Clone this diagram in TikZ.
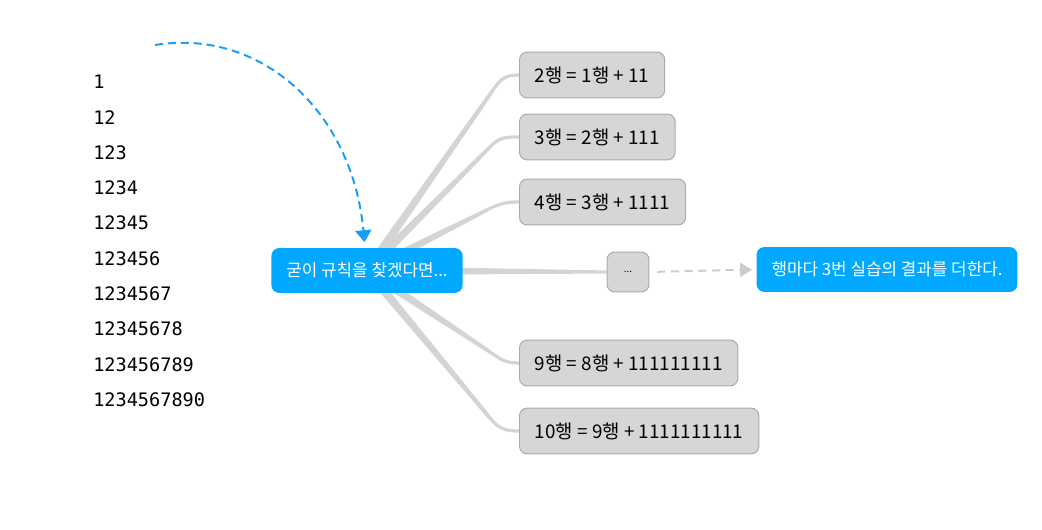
\documentclass[tikz,border=0pt]{standalone}
\usepackage{fontspec}
\setmainfont{Noto Sans CJK KR}
\newfontfamily\numfont{DejaVu Sans Mono}
\usetikzlibrary{calc,arrows.meta,backgrounds}
\definecolor{ruleblue}{HTML}{00A8FF}
\definecolor{boxgray}{HTML}{D6D6D6}
\definecolor{boxline}{HTML}{AAAAAA}
\definecolor{branchgray}{HTML}{D4D4D4}
\definecolor{arrowblue}{HTML}{1A9EF5}
\definecolor{dashgray}{HTML}{CCCCCC}

\begin{document}
\begin{tikzpicture}[x=0.025cm, y=-0.025cm,
    row/.style={anchor=west, font=\numfont\fontsize{13.2}{15}\selectfont, inner sep=0pt},
    idea/.style={rectangle, rounded corners=5.5pt, fill=ruleblue, text=white, font=\fontsize{12}{14}\selectfont, minimum height=31.9pt, inner xsep=10.6pt},
    rowbox/.style={rectangle, rounded corners=5.5pt, draw=boxline, fill=boxgray, line width=0.7pt, font=\fontsize{13.4}{15}\selectfont, minimum height=32.6pt, inner xsep=11pt, anchor=west},
    branch/.style={fill=branchgray, draw=none},
    branch line/.style={draw=branchgray, line width=2.3pt, line cap=round},
    hint/.style={-{Triangle[length=8.5pt, width=11.5pt, fill=arrowblue]}, draw=arrowblue, line width=1.4pt, dash pattern=on 5.7pt off 3.5pt},
    next/.style={-{Triangle[length=8.5pt, width=10pt, fill=dashgray]}, draw=dashgray, line width=1.4pt, dash pattern=on 5.7pt off 4pt},
]
\useasboundingbox (0,0) rectangle (1042,530);

% the rows to be summed
\foreach \txt [count=\i] in {1,12,123,1234,12345,123456,1234567,12345678,123456789,1234567890}
  \node[row] (row\i) at (93,{82+35.3*(\i-1)}) {\txt};

\node[idea] (rule) at (367,270.5) {굳이 규칙을 찾겠다면...};
\node[rowbox] (s2) at (519,75) {2행 = 1행 + 11};
\node[rowbox] (s3) at (519,137) {3행 = 2행 + 111};
\node[rowbox] (s4) at (519,202) {4행 = 3행 + 1111};
\node[rowbox, anchor=center, minimum width=29.8pt, minimum height=28.4pt, inner sep=0pt, font=\scriptsize] (dots) at (628,272) {...};
\node[rowbox] (s9) at (519,363) {9행 = 8행 + 111111111};
\node[rowbox] (s10) at (519,431) {10행 = 9행 + 1111111111};
\node[idea] (sum) at (887,269.5) {행마다 3번 실습의 결과를 더한다.};

% tapered branches behind the boxes
\begin{scope}[on background layer]
\foreach \t/\dx/\dy in {s2/-26/15, s3/-29/10, s4/-32/8, s9/-29/-11, s10/-29/-13} {
  \coordinate (b-\t) at ($(\t.west)+(\dx,\dy)$);
  \fill[branch] ($(rule.center)!3.2pt!90:(b-\t)$) -- ($(b-\t)!1.3pt!-90:(rule.center)$)
    -- ($(b-\t)!1.3pt!90:(rule.center)$) -- ($(rule.center)!3.2pt!-90:(b-\t)$) -- cycle;
  \draw[branch line] (b-\t) .. controls ($(b-\t)!-10pt!(rule.center)$) and ($(\t.west)+(-14,0)$) .. (\t.west);
}
\fill[branch] ($(rule.center)!3.2pt!90:(dots.west)$) -- ($(dots.west)!1.1pt!-90:(rule.center)$)
  -- ($(dots.west)!1.1pt!90:(rule.center)$) -- ($(rule.center)!3.2pt!-90:(dots.west)$) -- cycle;
\end{scope}

\coordinate (from) at (155,45);
\draw[hint, shorten >=4pt] (from) .. controls (260,28) and (352,110) .. ([xshift=-1.4pt]rule.north);
\draw[next, shorten <=5.7pt, shorten >=3pt] (dots.east) -- (sum.west);
\end{tikzpicture}
\end{document}
